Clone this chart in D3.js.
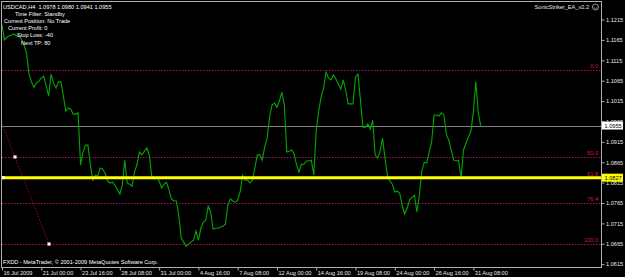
<!DOCTYPE html>
<html>
<head>
<meta charset="utf-8">
<script src="https://cdn.jsdelivr.net/npm/d3@7"></script>
<style>
  html, body { margin: 0; padding: 0; background: #000; }
  svg { display: block; }
</style>
</head>
<body>
<div id="chart"></div>
<script>
// USDCAD H4 closes, one per bar, first bar on 16 Jul 2009
const closes = [
  1.1202, 1.1165, 1.1172, 1.1175, 1.1177, 1.1179, 1.1175, 1.1175, 1.1165, 1.1152,
  1.1133, 1.1081, 1.1062, 1.1049, 1.1059, 1.1064, 1.1071, 1.1076, 1.1052, 1.1027,
  1.1081, 1.1059, 1.1047, 1.1062, 1.1062, 1.1027, 1.0990, 1.0998, 1.0995, 1.0983,
  1.0983, 1.0986, 1.0858, 1.0890, 1.0907, 1.0907, 1.0858, 1.0821, 1.0833, 1.0831,
  1.0851, 1.0848, 1.0838, 1.0819, 1.0814, 1.0816, 1.0809, 1.0797, 1.0787, 1.0809,
  1.0870, 1.0814, 1.0811, 1.0806, 1.0841, 1.0860, 1.0890, 1.0883, 1.0892, 1.0900,
  1.0883, 1.0831, 1.0824, 1.0828, 1.0819, 1.0802, 1.0811, 1.0816, 1.0797, 1.0775,
  1.0770, 1.0770, 1.0735, 1.0679, 1.0669, 1.0659, 1.0664, 1.0669, 1.0674, 1.0696,
  1.0674, 1.0703, 1.0718, 1.0723, 1.0757, 1.0743, 1.0701, 1.0703, 1.0703, 1.0706,
  1.0708, 1.0713, 1.0760, 1.0775, 1.0770, 1.0767, 1.0772, 1.0792, 1.0833, 1.0821,
  1.0821, 1.0814, 1.0821, 1.0851, 1.0883, 1.0883, 1.0870, 1.0902, 1.0924, 1.0976,
  1.1005, 1.1010, 1.1000, 1.1015, 1.1037, 1.1005, 1.0890, 1.0892, 1.0895, 1.0885,
  1.0858, 1.0841, 1.0860, 1.0860, 1.0868, 1.0868, 1.0870, 1.0833, 1.0944, 1.0990,
  1.1025, 1.1047, 1.1086, 1.1071, 1.1067, 1.1079, 1.1069, 1.1057, 1.1044, 1.1067,
  1.1042, 1.1008, 1.1008, 1.1008, 1.1074, 1.1081, 1.1018, 1.0951, 1.0951, 1.0959,
  1.0946, 1.0968, 1.0883, 1.0875, 1.0892, 1.0924, 1.0875, 1.0833, 1.0819, 1.0811,
  1.0792, 1.0794, 1.0789, 1.0760, 1.0738, 1.0752, 1.0772, 1.0779, 1.0784, 1.0743,
  1.0784, 1.0843, 1.0865, 1.0863, 1.0890, 1.0914, 1.0981, 1.0981, 1.0978, 1.0986,
  1.0981, 1.0934, 1.0919, 1.0895, 1.0870, 1.0868, 1.0870, 1.0826, 1.0895, 1.0912,
  1.0927, 1.0941, 1.0988, 1.1062, 1.0986, 1.0955
];

// time axis: one label every 16 bars
const timeTickBars = [0, 16, 32, 48, 64, 80, 96, 112, 128, 144, 160, 176, 192];
const timeTickLabels = [
  '16 Jul 2009', '21 Jul 00:00', '23 Jul 16:00', '28 Jul 08:00', '31 Jul 00:00',
  '4 Aug 16:00', '7 Aug 08:00', '12 Aug 00:00', '14 Aug 16:00', '19 Aug 08:00',
  '24 Aug 00:00', '26 Aug 16:00', '31 Aug 08:00'
];

// price axis labels
const priceTicks = [
  1.0615, 1.0665, 1.0715, 1.0765, 1.0815, 1.0865, 1.0915,
  1.0965, 1.1015, 1.1065, 1.1115, 1.1165, 1.1215
];

// fibonacci retracement
const fibLevels = [0, 50, 61.8, 76.4, 100];
const fibHigh = 1.1091;
const fibLow = 1.0664;
const fibAnchors = [
  { bar: 5.3, price: 1.0878 },
  { bar: 19.2, price: 1.0664 }
];
const entryLevel = 61.8;
const currentPrice = 1.0955;

// EA status text
const statusLines = [
  'USDCAD,H4  1.0978 1.0980 1.0941 1.0955',
  'Time Filter: Standby',
  'Current Position: No Trade',
  'Current Profit: 0',
  'Stop Loss: -40',
  'Next TP: 80'
];
const eaName = 'SonicStriker_EA_v2.2';
const copyright = 'FXDD - MetaTrader, \u00a9 2001-2009 MetaQuotes Software Corp.';

/*------------------------------------------------------*/

const width = 625, height = 277;
const plot = { left: 2, top: 2, right: 601, bottom: 267 };
const FONT = "'Liberation Sans', Arial, sans-serif";
const FS = 5.6;

const svg = d3.select('#chart')
  .append('svg')
  .attr('width', width)
  .attr('height', height)
  .style('background', '#000');

const x = d3.scaleLinear().domain([0, 244]).range([plot.left, plot.right]);
const y = d3.scaleLinear().domain([1.0608, 1.1258]).range([plot.bottom, plot.top]);

const fibPrice = (lvl) => fibHigh - lvl / 100 * (fibHigh - fibLow);

svg.append('clipPath').attr('id', 'plotClip')
  .append('rect')
  .attr('x', plot.left).attr('y', plot.top)
  .attr('width', plot.right - plot.left)
  .attr('height', plot.bottom - plot.top);

const g = svg.append('g').attr('clip-path', 'url(#plotClip)');

// fib level lines
g.selectAll('.fib')
  .data(fibLevels.filter((d) => d !== entryLevel))
  .enter()
  .append('line')
  .attr('x1', plot.left).attr('x2', plot.right)
  .attr('y1', (d) => Math.round(y(fibPrice(d))) + 0.5)
  .attr('y2', (d) => Math.round(y(fibPrice(d))) + 0.5)
  .attr('stroke', '#b0105a')
  .attr('stroke-width', 1)
  .attr('stroke-dasharray', '1.5,1.5');

// current bid line
g.append('line')
  .attr('x1', plot.left).attr('x2', plot.right)
  .attr('y1', Math.round(y(currentPrice)) + 0.5)
  .attr('y2', Math.round(y(currentPrice)) + 0.5)
  .attr('stroke', '#808080')
  .attr('stroke-width', 1);

// fib trend line, extended to the left
const slope = (fibAnchors[1].price - fibAnchors[0].price) / (fibAnchors[1].bar - fibAnchors[0].bar);
const startBar = -20;
g.append('line')
  .attr('x1', x(startBar))
  .attr('y1', y(fibAnchors[0].price + slope * (startBar - fibAnchors[0].bar)))
  .attr('x2', x(fibAnchors[1].bar))
  .attr('y2', y(fibAnchors[1].price))
  .attr('stroke', '#9a0a1a')
  .attr('stroke-width', 1)
  .attr('stroke-dasharray', '1.5,1.5');

// price line
const line = d3.line()
  .x((d, i) => x(i))
  .y((d) => y(d));

g.append('path')
  .datum(closes)
  .attr('d', line)
  .attr('fill', 'none')
  .attr('stroke', '#00a800')
  .attr('stroke-width', 1.1);

// entry level (61.8) in yellow
g.append('line')
  .attr('x1', plot.left).attr('x2', plot.right)
  .attr('y1', y(fibPrice(entryLevel)))
  .attr('y2', y(fibPrice(entryLevel)))
  .attr('stroke', '#ffff00')
  .attr('stroke-width', 3);

g.append('rect')
  .attr('x', plot.left).attr('y', y(fibPrice(entryLevel)) - 1.5)
  .attr('width', 3).attr('height', 3)
  .attr('fill', '#ffffb0');

// anchor markers
g.selectAll('.anchor')
  .data(fibAnchors)
  .enter()
  .append('rect')
  .attr('x', (d) => x(d.bar) - 1.5)
  .attr('y', (d) => y(d.price) - 1.5)
  .attr('width', 3).attr('height', 3)
  .attr('fill', '#ffffff')
  .attr('stroke', '#e06080')
  .attr('stroke-width', 0.6);

// fib level labels
svg.selectAll('.fibLabel')
  .data(fibLevels)
  .enter()
  .append('text')
  .attr('x', plot.right - 3)
  .attr('y', (d) => y(fibPrice(d)) - 2)
  .attr('text-anchor', 'end')
  .attr('font-family', FONT)
  .attr('font-size', FS)
  .attr('fill', '#d0106a')
  .text((d) => d3.format('.1f')(d));

// frame
svg.append('rect')
  .attr('x', plot.left - 0.5).attr('y', plot.top - 0.5)
  .attr('width', plot.right - plot.left + 1)
  .attr('height', plot.bottom - plot.top + 1)
  .attr('fill', 'none')
  .attr('stroke', '#b0b0b0')
  .attr('stroke-width', 1);

// price axis
const yAxis = svg.append('g')
  .attr('transform', `translate(${plot.right + 0.5},0)`)
  .call(d3.axisRight(y)
    .tickValues(priceTicks)
    .tickSize(3)
    .tickPadding(1.5)
    .tickFormat(d3.format('.4f')));
yAxis.select('.domain').remove();
yAxis.selectAll('line').attr('stroke', '#b0b0b0');
yAxis.selectAll('text')
  .attr('font-family', FONT)
  .attr('font-size', FS)
  .attr('fill', '#e8e8e8');

// time axis
const xAxis = svg.append('g')
  .attr('transform', `translate(0,${plot.bottom + 0.5})`)
  .call(d3.axisBottom(x)
    .tickValues(timeTickBars)
    .tickSize(3)
    .tickFormat((d, i) => timeTickLabels[i]));
xAxis.select('.domain').remove();
xAxis.selectAll('line').attr('stroke', '#b0b0b0');
xAxis.selectAll('text')
  .attr('text-anchor', 'start')
  .attr('x', 1)
  .attr('y', 3.5)
  .attr('font-family', FONT)
  .attr('font-size', FS)
  .attr('fill', '#e8e8e8');

// price boxes on the axis
const boxes = [
  { price: currentPrice, fill: '#ffffff' },
  { price: fibPrice(entryLevel), fill: '#ffff00' }
];
const boxG = svg.selectAll('.pbox')
  .data(boxes)
  .enter()
  .append('g')
  .attr('transform', (d) => `translate(${plot.right + 1},${y(d.price)})`);
boxG.append('rect')
  .attr('x', 0).attr('y', -4)
  .attr('width', 21).attr('height', 8)
  .attr('fill', (d) => d.fill);
boxG.append('text')
  .attr('x', 2.5).attr('y', 2.1)
  .attr('font-family', FONT)
  .attr('font-size', FS)
  .attr('fill', '#000')
  .text((d) => d3.format('.4f')(d.price));

// status text, top left
const statusX = [3, 15, 4, 8, 17, 21];
svg.selectAll('.status')
  .data(statusLines)
  .enter()
  .append('text')
  .attr('x', (d, i) => statusX[i])
  .attr('y', (d, i) => 8.5 + i * 7.2)
  .attr('font-family', FONT)
  .attr('font-size', FS)
  .attr('fill', '#ffffff')
  .attr('xml:space', 'preserve')
  .text((d) => d);

// EA name + smiley, top right
svg.append('text')
  .attr('x', 589).attr('y', 9)
  .attr('text-anchor', 'end')
  .attr('font-family', FONT)
  .attr('font-size', FS)
  .attr('fill', '#e8e8e8')
  .text(eaName);
svg.append('circle')
  .attr('cx', 595.5).attr('cy', 7).attr('r', 3)
  .attr('fill', 'none').attr('stroke', '#c0c0c0').attr('stroke-width', 0.8);
svg.append('path')
  .attr('d', 'M593.8,7.6 Q595.5,9.4 597.2,7.6')
  .attr('fill', 'none').attr('stroke', '#c0c0c0').attr('stroke-width', 0.6);

// copyright, bottom left
svg.append('text')
  .attr('x', 3).attr('y', 264)
  .attr('font-family', FONT)
  .attr('font-size', FS)
  .attr('fill', '#ffffff')
  .text(copyright);
</script>
</body>
</html>
